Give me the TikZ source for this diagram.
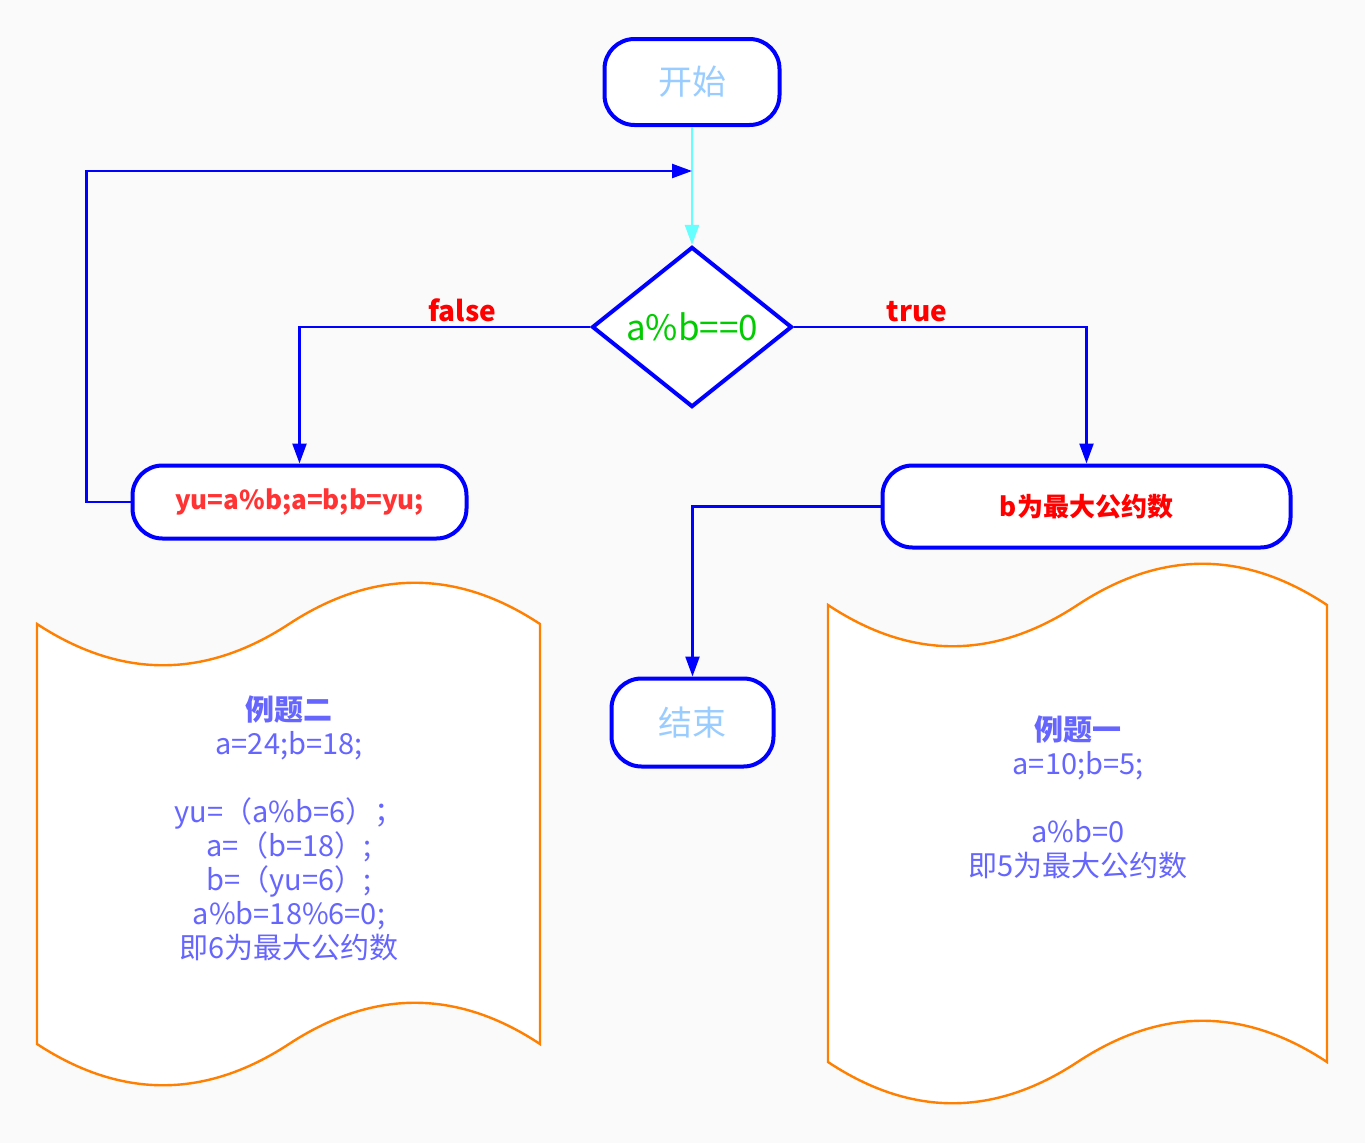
\documentclass[tikz,border=0pt]{standalone}
\usepackage{fontspec}
\setmainfont{Noto Sans CJK SC}
\usetikzlibrary{shapes.geometric,arrows.meta}

\definecolor{pagebg}{HTML}{FAFAFA}
\definecolor{flowblue}{HTML}{0000FF}
\definecolor{startcyan}{HTML}{66FFFF}
\definecolor{termtext}{HTML}{99CCFF}
\definecolor{condgreen}{HTML}{00CC00}
\definecolor{labelred}{HTML}{FF0000}
\definecolor{steptext}{HTML}{FF3333}
\definecolor{notetext}{HTML}{6666FF}
\definecolor{noteorange}{HTML}{FF8000}

\tikzset{
	termbox/.style={draw=flowblue, line width=4pt, fill=white, rounded corners=30pt,
		text=termtext, font=\fontsize{34}{40}\selectfont},
	stepbox/.style={draw=flowblue, line width=4pt, fill=white, rounded corners=30pt,
		font=\bfseries\fontsize{26}{32}\selectfont},
	tapebox/.style={draw=noteorange, line width=2.4pt, fill=white},
}

\begin{document}
\begin{tikzpicture}[
		x=1pt, y=-1pt,
		flow/.style={draw=flowblue, line width=2.4pt, -{Triangle[length=20pt,width=14pt]}},
		branch/.style={text=labelred, font=\bfseries\fontsize{28}{32}\selectfont, inner sep=0pt},
		notetxt/.style={text=notetext, align=center, inner sep=0pt, font=\fontsize{29}{34}\selectfont},
	]
		\fill[pagebg] (0,0) rectangle (1365,1143);
		\useasboundingbox (0,0) rectangle (1365,1143);

		% notes
		\draw[tapebox] (37,624) .. controls (121,679) and (205,679) .. (289,624)
			.. controls (373,569) and (457,569) .. (540,624) -- (540,1044)
			.. controls (457,989) and (373,989) .. (289,1044)
			.. controls (205,1099) and (121,1099) .. (37,1044) -- cycle;
		\draw[tapebox] (828,605) .. controls (911,660) and (994,660) .. (1077.5,605)
			.. controls (1161,550) and (1244,550) .. (1327,605) -- (1327,1062)
			.. controls (1244,1007) and (1161,1007) .. (1077.5,1062)
			.. controls (994,1117) and (911,1117) .. (828,1062) -- cycle;
		\node (ex2) [notetxt] at (289,828) {\textbf{例题二}\\a=24;b=18;\\ \\yu=（a\%b=6）；\\a=（b=18）;\\b=（yu=6）;\\a\%b=18\%6=0;\\即6为最大公约数};
		\node (ex1) [notetxt] at (1078,797) {\textbf{例题一}\\a=10;b=5;\\ \\a\%b=0\\即5为最大公约数};

		% flow
		\node (start) [termbox, minimum width=175pt, minimum height=86pt] at (692,82) {开始};
		\node (cond) [diamond, draw=flowblue, line width=4pt, fill=white, inner sep=0pt,
			minimum width=200pt, minimum height=156pt, text=condgreen,
			font=\fontsize{35}{40}\selectfont] at (692,327) {a\%b==0};
		\node (swap) [stepbox, text=steptext, minimum width=334pt, minimum height=73pt] at (299.5,502) {yu=a\%b;a=b;b=yu;};
		\node (gcd) [stepbox, text=labelred, minimum width=408pt, minimum height=82pt] at (1086.5,506.5) {b为最大公约数};
		\node (stop) [termbox, minimum width=162pt, minimum height=88pt] at (692.5,722.5) {结束};
		\coordinate (merge) at (692,171);

		\draw[flow, draw=startcyan] (start.south) -- (cond.north);
		\draw[flow] (cond.west) -| (swap.north) node[branch, pos=0.22, above=4pt] {false};
		\draw[flow] (cond.east) -| (gcd.north) node[branch, pos=0.21, above=4pt] {true};
		\draw[flow] (swap.west) -- ++(-44,0) |- (merge);
		\draw[flow] (gcd.west) -| (stop.north);
	\end{tikzpicture}
\end{document}
